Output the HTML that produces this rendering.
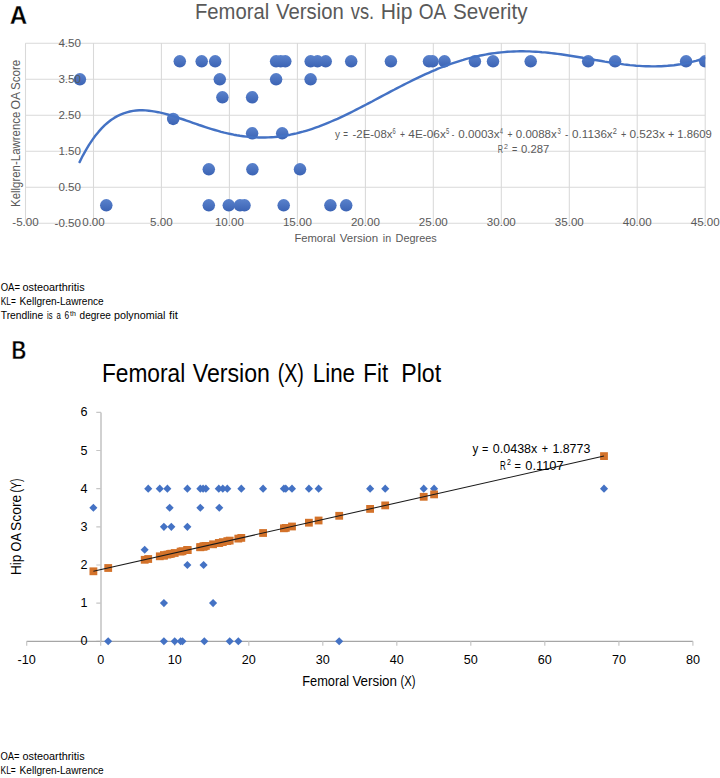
<!DOCTYPE html><html><head><meta charset="utf-8"><style>html,body{margin:0;padding:0;background:#fff;width:720px;height:778px;overflow:hidden}svg{display:block}text{font-family:"Liberation Sans",sans-serif}</style></head><body>
<svg width="720" height="778" viewBox="0 0 720 778">
<defs><linearGradient id="dg" x1="0" y1="0" x2="0" y2="1"><stop offset="0" stop-color="#5a82cc"/><stop offset="1" stop-color="#3b63b4"/></linearGradient><clipPath id="ca"><rect x="25" y="43" width="680.3" height="181"/></clipPath></defs>
<rect width="720" height="778" fill="#fff"/>
<text x="9.70" y="23.7" font-size="25.4" fill="#000" font-weight="bold" textLength="17.50" lengthAdjust="spacingAndGlyphs" stroke="#fff" stroke-width="0.35">A</text>
<text x="195.00" y="19" font-size="22" fill="#595959" textLength="74.19" lengthAdjust="spacingAndGlyphs">Femoral</text><text x="276.10" y="19" font-size="22" fill="#595959" textLength="67.66" lengthAdjust="spacingAndGlyphs">Version</text><text x="350.80" y="19" font-size="22" fill="#595959" textLength="23.40" lengthAdjust="spacingAndGlyphs">vs.</text><text x="380.80" y="19" font-size="22" fill="#595959" textLength="31.69" lengthAdjust="spacingAndGlyphs">Hip</text><text x="418.75" y="19" font-size="22" fill="#595959" textLength="27.50" lengthAdjust="spacingAndGlyphs">OA</text><text x="452.90" y="19" font-size="22" fill="#595959" textLength="74.61" lengthAdjust="spacingAndGlyphs">Severity</text>
<path d="M25.5 43.3H705.2 M25.5 79.3H705.2 M25.5 115.3H705.2 M25.5 151.3H705.2 M25.5 187.3H705.2 M25.5 223.3H705.2 M25.5 43.3V223.3 M93.5 43.3V223.3 M161.4 43.3V223.3 M229.4 43.3V223.3 M297.4 43.3V223.3 M365.4 43.3V223.3 M433.3 43.3V223.3 M501.3 43.3V223.3 M569.3 43.3V223.3 M637.2 43.3V223.3 M705.2 43.3V223.3" stroke="#d9d9d9" stroke-width="1.05" fill="none"/>
<g fill="url(#dg)" clip-path="url(#ca)"><circle cx="179.8" cy="61.3" r="6.25"/><circle cx="201.7" cy="61.3" r="6.25"/><circle cx="215.2" cy="61.3" r="6.25"/><circle cx="276.1" cy="61.3" r="6.25"/><circle cx="280.7" cy="61.3" r="6.25"/><circle cx="285.3" cy="61.3" r="6.25"/><circle cx="310.7" cy="61.3" r="6.25"/><circle cx="317.5" cy="61.3" r="6.25"/><circle cx="325.7" cy="61.3" r="6.25"/><circle cx="351.2" cy="61.3" r="6.25"/><circle cx="390.9" cy="61.3" r="6.25"/><circle cx="429.0" cy="61.3" r="6.25"/><circle cx="432.5" cy="61.3" r="6.25"/><circle cx="444.5" cy="61.3" r="6.25"/><circle cx="474.9" cy="61.3" r="6.25"/><circle cx="493.0" cy="61.3" r="6.25"/><circle cx="530.7" cy="61.3" r="6.25"/><circle cx="588.2" cy="61.3" r="6.25"/><circle cx="615.1" cy="61.3" r="6.25"/><circle cx="686.1" cy="61.3" r="6.25"/><circle cx="705.2" cy="61.3" r="6.25"/><circle cx="79.9" cy="79.3" r="6.25"/><circle cx="219.8" cy="79.3" r="6.25"/><circle cx="276.1" cy="79.3" r="6.25"/><circle cx="310.6" cy="79.3" r="6.25"/><circle cx="222.4" cy="97.3" r="6.25"/><circle cx="252.1" cy="97.3" r="6.25"/><circle cx="173.2" cy="118.9" r="6.25"/><circle cx="252.1" cy="133.3" r="6.25"/><circle cx="282.2" cy="133.3" r="6.25"/><circle cx="208.8" cy="169.3" r="6.25"/><circle cx="252.4" cy="169.3" r="6.25"/><circle cx="300.0" cy="169.3" r="6.25"/><circle cx="106.3" cy="205.3" r="6.25"/><circle cx="208.8" cy="205.3" r="6.25"/><circle cx="228.8" cy="205.3" r="6.25"/><circle cx="240.0" cy="205.3" r="6.25"/><circle cx="244.5" cy="205.3" r="6.25"/><circle cx="283.7" cy="205.3" r="6.25"/><circle cx="330.4" cy="205.3" r="6.25"/><circle cx="346.2" cy="205.3" r="6.25"/></g>
<text x="81" y="47.3" font-size="11.6" fill="#595959" text-anchor="end">4.50</text>
<text x="81" y="83.3" font-size="11.6" fill="#595959" text-anchor="end">3.50</text>
<text x="81" y="119.3" font-size="11.6" fill="#595959" text-anchor="end">2.50</text>
<text x="81" y="155.3" font-size="11.6" fill="#595959" text-anchor="end">1.50</text>
<text x="81" y="191.3" font-size="11.6" fill="#595959" text-anchor="end">0.50</text>
<text x="81" y="227.3" font-size="11.6" fill="#595959" text-anchor="end">-0.50</text>
<text x="25.5" y="226.2" font-size="11.6" fill="#595959" text-anchor="middle">-5.00</text>
<text x="93.5" y="226.2" font-size="11.6" fill="#595959" text-anchor="middle">0.00</text>
<text x="161.4" y="226.2" font-size="11.6" fill="#595959" text-anchor="middle">5.00</text>
<text x="229.4" y="226.2" font-size="11.6" fill="#595959" text-anchor="middle">10.00</text>
<text x="297.4" y="226.2" font-size="11.6" fill="#595959" text-anchor="middle">15.00</text>
<text x="365.4" y="226.2" font-size="11.6" fill="#595959" text-anchor="middle">20.00</text>
<text x="433.3" y="226.2" font-size="11.6" fill="#595959" text-anchor="middle">25.00</text>
<text x="501.3" y="226.2" font-size="11.6" fill="#595959" text-anchor="middle">30.00</text>
<text x="569.3" y="226.2" font-size="11.6" fill="#595959" text-anchor="middle">35.00</text>
<text x="637.2" y="226.2" font-size="11.6" fill="#595959" text-anchor="middle">40.00</text>
<text x="705.2" y="226.2" font-size="11.6" fill="#595959" text-anchor="middle">45.00</text>
<text x="294.40" y="241.8" font-size="11.6" fill="#595959" textLength="41.19" lengthAdjust="spacingAndGlyphs">Femoral</text><text x="339.70" y="241.8" font-size="11.6" fill="#595959" textLength="38.41" lengthAdjust="spacingAndGlyphs">Version</text><text x="382.80" y="241.8" font-size="11.6" fill="#595959" textLength="8.30" lengthAdjust="spacingAndGlyphs">in</text><text x="395.60" y="241.8" font-size="11.6" fill="#595959" textLength="41.10" lengthAdjust="spacingAndGlyphs">Degrees</text>
<g transform="translate(20,0) rotate(-90)"><text x="-207.00" y="0" font-size="12.8" fill="#595959" textLength="95.40" lengthAdjust="spacingAndGlyphs">Kellgren-Lawrence</text><text x="-109.40" y="0" font-size="12.8" fill="#595959" textLength="17.60" lengthAdjust="spacingAndGlyphs">OA</text><text x="-89.90" y="0" font-size="12.8" fill="#595959" textLength="30.20" lengthAdjust="spacingAndGlyphs">Score</text></g>
<path d="M79.6 162.1 L82.7 155.8 L85.9 150.1 L89.0 144.9 L92.2 140.1 L95.3 135.8 L98.5 131.9 L101.6 128.4 L104.8 125.2 L107.9 122.5 L111.0 120.0 L114.2 117.9 L117.3 116.1 L120.5 114.6 L123.6 113.3 L126.8 112.3 L129.9 111.5 L133.1 110.9 L136.2 110.5 L139.3 110.3 L142.5 110.3 L145.6 110.4 L148.8 110.7 L151.9 111.1 L155.1 111.6 L158.2 112.2 L161.4 112.9 L164.5 113.7 L167.7 114.5 L170.8 115.4 L173.9 116.4 L177.1 117.4 L180.2 118.5 L183.4 119.5 L186.5 120.6 L189.7 121.7 L192.8 122.8 L196.0 123.9 L199.1 125.0 L202.2 126.0 L205.4 127.1 L208.5 128.1 L211.7 129.1 L214.8 130.0 L218.0 130.9 L221.1 131.8 L224.3 132.6 L227.4 133.3 L230.5 134.0 L233.7 134.7 L236.8 135.3 L240.0 135.8 L243.1 136.2 L246.3 136.6 L249.4 136.9 L252.6 137.2 L255.7 137.4 L258.8 137.5 L262.0 137.5 L265.1 137.5 L268.3 137.4 L271.4 137.2 L274.6 137.0 L277.7 136.7 L280.9 136.3 L284.0 135.8 L287.2 135.3 L290.3 134.7 L293.4 134.0 L296.6 133.3 L299.7 132.5 L302.9 131.7 L306.0 130.8 L309.2 129.8 L312.3 128.8 L315.5 127.7 L318.6 126.6 L321.7 125.4 L324.9 124.1 L328.0 122.8 L331.2 121.5 L334.3 120.2 L337.5 118.8 L340.6 117.3 L343.8 115.8 L346.9 114.3 L350.0 112.8 L353.2 111.2 L356.3 109.6 L359.5 108.0 L362.6 106.4 L365.8 104.8 L368.9 103.1 L372.1 101.5 L375.2 99.8 L378.3 98.1 L381.5 96.4 L384.6 94.8 L387.8 93.1 L390.9 91.4 L394.1 89.8 L397.2 88.1 L400.4 86.5 L403.5 84.9 L406.7 83.3 L409.8 81.7 L412.9 80.1 L416.1 78.6 L419.2 77.1 L422.4 75.6 L425.5 74.2 L428.7 72.8 L431.8 71.4 L435.0 70.1 L438.1 68.7 L441.2 67.5 L444.4 66.3 L447.5 65.1 L450.7 63.9 L453.8 62.9 L457.0 61.8 L460.1 60.8 L463.3 59.9 L466.4 58.9 L469.5 58.1 L472.7 57.3 L475.8 56.5 L479.0 55.8 L482.1 55.2 L485.3 54.6 L488.4 54.0 L491.6 53.5 L494.7 53.1 L497.8 52.7 L501.0 52.4 L504.1 52.1 L507.3 51.8 L510.4 51.6 L513.6 51.5 L516.7 51.4 L519.9 51.3 L523.0 51.3 L526.2 51.4 L529.3 51.4 L532.4 51.6 L535.6 51.7 L538.7 51.9 L541.9 52.2 L545.0 52.4 L548.2 52.7 L551.3 53.1 L554.5 53.5 L557.6 53.9 L560.7 54.3 L563.9 54.7 L567.0 55.2 L570.2 55.7 L573.3 56.2 L576.5 56.7 L579.6 57.2 L582.8 57.8 L585.9 58.3 L589.0 58.9 L592.2 59.4 L595.3 60.0 L598.5 60.5 L601.6 61.0 L604.8 61.6 L607.9 62.1 L611.1 62.6 L614.2 63.1 L617.3 63.5 L620.5 63.9 L623.6 64.4 L626.8 64.7 L629.9 65.1 L633.1 65.4 L636.2 65.7 L639.4 65.9 L642.5 66.1 L645.7 66.2 L648.8 66.3 L651.9 66.4 L655.1 66.4 L658.2 66.3 L661.4 66.2 L664.5 66.0 L667.7 65.8 L670.8 65.5 L674.0 65.2 L677.1 64.7 L680.2 64.3 L683.4 63.7 L686.5 63.1 L689.7 62.4 L692.8 61.7 L696.0 60.9 L699.1 60.0 L702.3 59.0 L705.4 58.0" stroke="#4472c4" stroke-width="2.4" fill="none" stroke-linecap="round" stroke-linejoin="round" clip-path="url(#ca)"/>
<text x="335.00" y="137.7" font-size="11.2" fill="#595959" textLength="5.00" lengthAdjust="spacingAndGlyphs">y</text><text x="343.30" y="137.7" font-size="11.2" fill="#595959" textLength="4.70" lengthAdjust="spacingAndGlyphs">=</text><text x="352.50" y="137.7" font-size="11.2" fill="#595959" textLength="39.99" lengthAdjust="spacingAndGlyphs">-2E-08x</text><text x="392.60" y="133.7" font-size="8.8" fill="#595959" textLength="3.20" lengthAdjust="spacingAndGlyphs">6</text><text x="400.00" y="137.7" font-size="11.2" fill="#595959" textLength="5.00" lengthAdjust="spacingAndGlyphs">+</text><text x="408.30" y="137.7" font-size="11.2" fill="#595959" textLength="37.51" lengthAdjust="spacingAndGlyphs">4E-06x</text><text x="445.90" y="133.7" font-size="8.8" fill="#595959" textLength="3.30" lengthAdjust="spacingAndGlyphs">5</text><text x="451.70" y="137.7" font-size="11.2" fill="#595959" textLength="2.50" lengthAdjust="spacingAndGlyphs">-</text><text x="458.30" y="137.7" font-size="11.2" fill="#595959" textLength="41.30" lengthAdjust="spacingAndGlyphs">0.0003x</text><text x="499.80" y="133.7" font-size="8.8" fill="#595959" textLength="3.20" lengthAdjust="spacingAndGlyphs">4</text><text x="507.50" y="137.7" font-size="11.2" fill="#595959" textLength="5.00" lengthAdjust="spacingAndGlyphs">+</text><text x="515.80" y="137.7" font-size="11.2" fill="#595959" textLength="40.90" lengthAdjust="spacingAndGlyphs">0.0088x</text><text x="557.50" y="133.7" font-size="8.8" fill="#595959" textLength="3.30" lengthAdjust="spacingAndGlyphs">3</text><text x="565.00" y="137.7" font-size="11.2" fill="#595959" textLength="3.30" lengthAdjust="spacingAndGlyphs">-</text><text x="572.10" y="137.7" font-size="11.2" fill="#595959" textLength="40.60" lengthAdjust="spacingAndGlyphs">0.1136x</text><text x="612.80" y="133.7" font-size="8.8" fill="#595959" textLength="4.10" lengthAdjust="spacingAndGlyphs">2</text><text x="621.00" y="137.7" font-size="11.2" fill="#595959" textLength="5.30" lengthAdjust="spacingAndGlyphs">+</text><text x="629.40" y="137.7" font-size="11.2" fill="#595959" textLength="35.41" lengthAdjust="spacingAndGlyphs">0.523x</text><text x="667.90" y="137.7" font-size="11.2" fill="#595959" textLength="6.30" lengthAdjust="spacingAndGlyphs">+</text><text x="677.30" y="137.7" font-size="11.2" fill="#595959" textLength="34.40" lengthAdjust="spacingAndGlyphs">1.8609</text>
<text x="497.80" y="153.1" font-size="11.2" fill="#595959" textLength="5.30" lengthAdjust="spacingAndGlyphs">R</text><text x="504.10" y="148.8" font-size="7.5" fill="#595959" textLength="3.90" lengthAdjust="spacingAndGlyphs">2</text><text x="511.90" y="153.1" font-size="11.2" fill="#595959" textLength="5.30" lengthAdjust="spacingAndGlyphs">=</text><text x="521.10" y="153.1" font-size="11.2" fill="#595959" textLength="28.21" lengthAdjust="spacingAndGlyphs">0.287</text>
<text x="0.70" y="290.8" font-size="10" fill="#000" textLength="19.30" lengthAdjust="spacingAndGlyphs">OA=</text><text x="22.50" y="290.8" font-size="10" fill="#000" textLength="62.10" lengthAdjust="spacingAndGlyphs">osteoarthritis</text>
<text x="0.70" y="304.6" font-size="10" fill="#000" textLength="15.10" lengthAdjust="spacingAndGlyphs">KL=</text><text x="19.60" y="304.6" font-size="10" fill="#000" textLength="84.15" lengthAdjust="spacingAndGlyphs">Kellgren-Lawrence</text>
<text x="0.80" y="318.6" font-size="10" fill="#000" textLength="42.50" lengthAdjust="spacingAndGlyphs">Trendline</text><text x="47.00" y="318.6" font-size="10" fill="#000" textLength="5.50" lengthAdjust="spacingAndGlyphs">is</text><text x="56.50" y="318.6" font-size="10" fill="#000" textLength="4.29" lengthAdjust="spacingAndGlyphs">a</text><text x="64.60" y="318.6" font-size="10" fill="#000" textLength="4.60" lengthAdjust="spacingAndGlyphs">6</text><text x="79.60" y="318.6" font-size="10" fill="#000" textLength="31.20" lengthAdjust="spacingAndGlyphs">degree</text><text x="114.00" y="318.6" font-size="10" fill="#000" textLength="51.40" lengthAdjust="spacingAndGlyphs">polynomial</text><text x="169.10" y="318.6" font-size="10" fill="#000" textLength="8.80" lengthAdjust="spacingAndGlyphs">fit</text>
<text x="70.00" y="315.8" font-size="6.3" fill="#000" textLength="5.80" lengthAdjust="spacingAndGlyphs">th</text>
<text x="11.40" y="359.1" font-size="24.9" fill="#000" font-weight="bold" textLength="14.80" lengthAdjust="spacingAndGlyphs" stroke="#fff" stroke-width="0.35">B</text>
<text x="101.90" y="381.6" font-size="25.2" fill="#000" textLength="83.39" lengthAdjust="spacingAndGlyphs">Femoral</text><text x="192.80" y="381.6" font-size="25.2" fill="#000" textLength="77.11" lengthAdjust="spacingAndGlyphs">Version</text><text x="277.70" y="381.6" font-size="25.2" fill="#000" textLength="26.20" lengthAdjust="spacingAndGlyphs">(X)</text><text x="312.70" y="381.6" font-size="25.2" fill="#000" textLength="42.39" lengthAdjust="spacingAndGlyphs">Line</text><text x="363.30" y="381.6" font-size="25.2" fill="#000" textLength="24.80" lengthAdjust="spacingAndGlyphs">Fit</text><text x="401.20" y="381.6" font-size="25.2" fill="#000" textLength="39.90" lengthAdjust="spacingAndGlyphs">Plot</text>
<path d="M101 412.5V641.3" stroke="#c6c6c6" stroke-width="1.6" fill="none"/>
<path d="M96.3 641.3H101 M96.3 603.1H101 M96.3 565.0H101 M96.3 526.8H101 M96.3 488.7H101 M96.3 450.5H101 M96.3 412.4H101" stroke="#c6c6c6" stroke-width="1.2" fill="none"/>
<path d="M26.7 641.3H692.9" stroke="#a6a6a6" stroke-width="1.2" fill="none"/>
<path d="M26.7 641.3V645.8 M100.7 641.3V645.8 M174.7 641.3V645.8 M248.8 641.3V645.8 M322.8 641.3V645.8 M396.8 641.3V645.8 M470.8 641.3V645.8 M544.8 641.3V645.8 M618.9 641.3V645.8 M692.9 641.3V645.8" stroke="#c6c6c6" stroke-width="1.2" fill="none"/>
<text x="87.4" y="645.3" font-size="12.6" fill="#000" text-anchor="end">0</text>
<text x="87.4" y="607.1" font-size="12.6" fill="#000" text-anchor="end">1</text>
<text x="87.4" y="569.0" font-size="12.6" fill="#000" text-anchor="end">2</text>
<text x="87.4" y="530.8" font-size="12.6" fill="#000" text-anchor="end">3</text>
<text x="87.4" y="492.7" font-size="12.6" fill="#000" text-anchor="end">4</text>
<text x="87.4" y="454.5" font-size="12.6" fill="#000" text-anchor="end">5</text>
<text x="87.4" y="416.4" font-size="12.6" fill="#000" text-anchor="end">6</text>
<text x="26.7" y="664.2" font-size="12.6" fill="#000" text-anchor="middle">-10</text>
<text x="100.7" y="664.2" font-size="12.6" fill="#000" text-anchor="middle">0</text>
<text x="174.7" y="664.2" font-size="12.6" fill="#000" text-anchor="middle">10</text>
<text x="248.8" y="664.2" font-size="12.6" fill="#000" text-anchor="middle">20</text>
<text x="322.8" y="664.2" font-size="12.6" fill="#000" text-anchor="middle">30</text>
<text x="396.8" y="664.2" font-size="12.6" fill="#000" text-anchor="middle">40</text>
<text x="470.8" y="664.2" font-size="12.6" fill="#000" text-anchor="middle">50</text>
<text x="544.8" y="664.2" font-size="12.6" fill="#000" text-anchor="middle">60</text>
<text x="618.9" y="664.2" font-size="12.6" fill="#000" text-anchor="middle">70</text>
<text x="692.9" y="664.2" font-size="12.6" fill="#000" text-anchor="middle">80</text>
<text x="302.20" y="685.7" font-size="14" fill="#000" textLength="46.99" lengthAdjust="spacingAndGlyphs">Femoral</text><text x="352.40" y="685.7" font-size="14" fill="#000" textLength="44.61" lengthAdjust="spacingAndGlyphs">Version</text><text x="400.60" y="685.7" font-size="14" fill="#000" textLength="15.00" lengthAdjust="spacingAndGlyphs">(X)</text>
<g transform="translate(21.1,0) rotate(-90)"><text x="-574.90" y="0" font-size="13.8" fill="#000" textLength="20.24" lengthAdjust="spacingAndGlyphs">Hip</text><text x="-551.50" y="0" font-size="13.8" fill="#000" textLength="18.50" lengthAdjust="spacingAndGlyphs">OA</text><text x="-531.00" y="0" font-size="13.8" fill="#000" textLength="36.25" lengthAdjust="spacingAndGlyphs">Score</text><text x="-492.50" y="0" font-size="13.8" fill="#000" textLength="13.90" lengthAdjust="spacingAndGlyphs">(Y)</text></g>
<g fill="#4472c4"><path d="M148.2 484.6L152.3 488.7L148.2 492.7L144.2 488.7Z"/><path d="M159.8 484.6L163.8 488.7L159.8 492.7L155.7 488.7Z"/><path d="M167.4 484.6L171.4 488.7L167.4 492.7L163.3 488.7Z"/><path d="M187.4 484.6L191.4 488.7L187.4 492.7L183.3 488.7Z"/><path d="M200.3 484.6L204.4 488.7L200.3 492.7L196.3 488.7Z"/><path d="M203.1 484.6L207.1 488.7L203.1 492.7L199.0 488.7Z"/><path d="M205.9 484.6L209.9 488.7L205.9 492.7L201.8 488.7Z"/><path d="M218.8 484.6L222.8 488.7L218.8 492.7L214.7 488.7Z"/><path d="M222.8 484.6L226.9 488.7L222.8 492.7L218.8 488.7Z"/><path d="M227.3 484.6L231.3 488.7L227.3 492.7L223.2 488.7Z"/><path d="M241.3 484.6L245.4 488.7L241.3 492.7L237.3 488.7Z"/><path d="M263.1 484.6L267.1 488.7L263.1 492.7L259.0 488.7Z"/><path d="M283.9 484.6L287.9 488.7L283.9 492.7L279.8 488.7Z"/><path d="M285.8 484.6L289.8 488.7L285.8 492.7L281.7 488.7Z"/><path d="M292.0 484.6L296.0 488.7L292.0 492.7L287.9 488.7Z"/><path d="M308.9 484.6L313.0 488.7L308.9 492.7L304.9 488.7Z"/><path d="M318.6 484.6L322.7 488.7L318.6 492.7L314.6 488.7Z"/><path d="M370.1 484.6L374.2 488.7L370.1 492.7L366.1 488.7Z"/><path d="M385.2 484.6L389.3 488.7L385.2 492.7L381.2 488.7Z"/><path d="M423.7 484.6L427.8 488.7L423.7 492.7L419.7 488.7Z"/><path d="M434.1 484.6L438.1 488.7L434.1 492.7L430.0 488.7Z"/><path d="M604.0 484.6L608.1 488.7L604.0 492.7L600.0 488.7Z"/><path d="M93.4 503.7L97.4 507.8L93.4 511.8L89.3 507.8Z"/><path d="M169.7 503.7L173.7 507.8L169.7 511.8L165.6 507.8Z"/><path d="M200.3 503.7L204.4 507.8L200.3 511.8L196.3 507.8Z"/><path d="M219.3 503.7L223.3 507.8L219.3 511.8L215.2 507.8Z"/><path d="M163.9 522.8L168.0 526.8L163.9 530.9L159.9 526.8Z"/><path d="M171.3 522.8L175.4 526.8L171.3 530.9L167.3 526.8Z"/><path d="M187.4 522.8L191.4 526.8L187.4 530.9L183.3 526.8Z"/><path d="M144.7 545.7L148.7 549.7L144.7 553.8L140.6 549.7Z"/><path d="M187.4 561.0L191.4 565.0L187.4 569.0L183.3 565.0Z"/><path d="M203.6 561.0L207.6 565.0L203.6 569.0L199.5 565.0Z"/><path d="M163.9 599.1L168.0 603.1L163.9 607.2L159.9 603.1Z"/><path d="M213.1 599.1L217.1 603.1L213.1 607.2L209.0 603.1Z"/><path d="M108.2 637.2L112.2 641.3L108.2 645.3L104.1 641.3Z"/><path d="M163.9 637.2L168.0 641.3L163.9 645.3L159.9 641.3Z"/><path d="M174.7 637.2L178.8 641.3L174.7 645.3L170.7 641.3Z"/><path d="M180.6 637.2L184.7 641.3L180.6 645.3L176.6 641.3Z"/><path d="M182.5 637.2L186.5 641.3L182.5 645.3L178.4 641.3Z"/><path d="M204.3 637.2L208.4 641.3L204.3 645.3L200.3 641.3Z"/><path d="M229.7 637.2L233.8 641.3L229.7 645.3L225.7 641.3Z"/><path d="M238.3 637.2L242.4 641.3L238.3 645.3L234.3 641.3Z"/><path d="M339.2 637.2L343.2 641.3L339.2 645.3L335.1 641.3Z"/></g>
<g fill="#d3722a"><rect x="89.5" y="567.4" width="7.8" height="7.8"/><rect x="104.3" y="564.1" width="7.8" height="7.8"/><rect x="140.8" y="555.9" width="7.8" height="7.8"/><rect x="144.3" y="555.1" width="7.8" height="7.8"/><rect x="155.9" y="552.4" width="7.8" height="7.8"/><rect x="160.0" y="551.5" width="7.8" height="7.8"/><rect x="160.0" y="551.5" width="7.8" height="7.8"/><rect x="160.0" y="551.5" width="7.8" height="7.8"/><rect x="163.5" y="550.7" width="7.8" height="7.8"/><rect x="165.8" y="550.2" width="7.8" height="7.8"/><rect x="167.4" y="549.8" width="7.8" height="7.8"/><rect x="170.8" y="549.1" width="7.8" height="7.8"/><rect x="176.7" y="547.7" width="7.8" height="7.8"/><rect x="178.6" y="547.3" width="7.8" height="7.8"/><rect x="183.5" y="546.2" width="7.8" height="7.8"/><rect x="183.5" y="546.2" width="7.8" height="7.8"/><rect x="183.5" y="546.2" width="7.8" height="7.8"/><rect x="196.4" y="543.3" width="7.8" height="7.8"/><rect x="196.4" y="543.3" width="7.8" height="7.8"/><rect x="199.2" y="542.7" width="7.8" height="7.8"/><rect x="199.7" y="542.6" width="7.8" height="7.8"/><rect x="200.4" y="542.4" width="7.8" height="7.8"/><rect x="202.0" y="542.0" width="7.8" height="7.8"/><rect x="209.2" y="540.4" width="7.8" height="7.8"/><rect x="214.9" y="539.1" width="7.8" height="7.8"/><rect x="215.4" y="539.0" width="7.8" height="7.8"/><rect x="218.9" y="538.2" width="7.8" height="7.8"/><rect x="223.4" y="537.2" width="7.8" height="7.8"/><rect x="225.8" y="536.7" width="7.8" height="7.8"/><rect x="234.4" y="534.7" width="7.8" height="7.8"/><rect x="237.4" y="534.0" width="7.8" height="7.8"/><rect x="259.2" y="529.1" width="7.8" height="7.8"/><rect x="280.0" y="524.4" width="7.8" height="7.8"/><rect x="281.9" y="524.0" width="7.8" height="7.8"/><rect x="288.1" y="522.6" width="7.8" height="7.8"/><rect x="305.0" y="518.8" width="7.8" height="7.8"/><rect x="314.7" y="516.6" width="7.8" height="7.8"/><rect x="335.3" y="511.9" width="7.8" height="7.8"/><rect x="366.2" y="505.0" width="7.8" height="7.8"/><rect x="381.3" y="501.5" width="7.8" height="7.8"/><rect x="419.8" y="492.9" width="7.8" height="7.8"/><rect x="430.2" y="490.5" width="7.8" height="7.8"/><rect x="600.1" y="452.2" width="7.8" height="7.8"/></g>
<path d="M93.4 571.3L604.0 456.1" stroke="#1a1a1a" stroke-width="1.05" fill="none"/>
<text x="472.40" y="452.6" font-size="13" fill="#000" textLength="5.80" lengthAdjust="spacingAndGlyphs">y</text><text x="482.10" y="452.6" font-size="13" fill="#000" textLength="6.30" lengthAdjust="spacingAndGlyphs">=</text><text x="492.80" y="452.6" font-size="13" fill="#000" textLength="44.50" lengthAdjust="spacingAndGlyphs">0.0438x</text><text x="541.70" y="452.6" font-size="13" fill="#000" textLength="6.30" lengthAdjust="spacingAndGlyphs">+</text><text x="552.40" y="452.6" font-size="13" fill="#000" textLength="37.90" lengthAdjust="spacingAndGlyphs">1.8773</text>
<text x="500.10" y="469.6" font-size="13" fill="#000" textLength="5.80" lengthAdjust="spacingAndGlyphs">R</text><text x="506.90" y="465.3" font-size="8.5" fill="#000" textLength="3.90" lengthAdjust="spacingAndGlyphs">2</text><text x="514.60" y="469.6" font-size="13" fill="#000" textLength="6.40" lengthAdjust="spacingAndGlyphs">=</text><text x="525.30" y="469.6" font-size="13" fill="#000" textLength="38.21" lengthAdjust="spacingAndGlyphs">0.1107</text>
<text x="0.50" y="760" font-size="10" fill="#000" textLength="19.10" lengthAdjust="spacingAndGlyphs">OA=</text><text x="22.50" y="760" font-size="10" fill="#000" textLength="62.10" lengthAdjust="spacingAndGlyphs">osteoarthritis</text>
<text x="0.50" y="773.9" font-size="10" fill="#000" textLength="15.30" lengthAdjust="spacingAndGlyphs">KL=</text><text x="19.60" y="773.9" font-size="10" fill="#000" textLength="84.15" lengthAdjust="spacingAndGlyphs">Kellgren-Lawrence</text>
</svg></body></html>
